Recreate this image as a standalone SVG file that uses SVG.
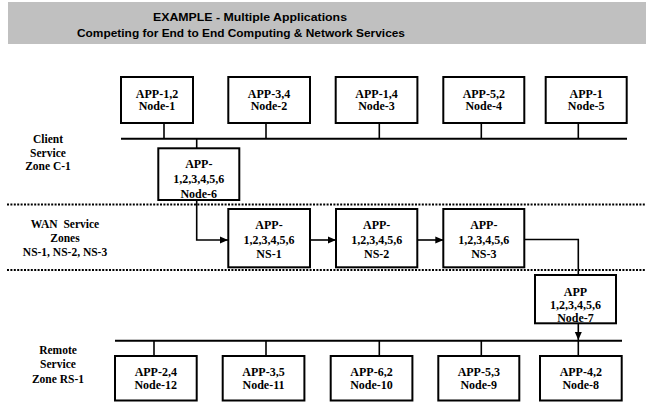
<svg xmlns="http://www.w3.org/2000/svg" width="646" height="402" viewBox="0 0 646 402">
<defs>
<marker id="ah" viewBox="0 0 8 8" refX="8" refY="4" markerWidth="8" markerHeight="8" markerUnits="userSpaceOnUse" orient="auto">
<path d="M0,0.5 L8,4 L0,7.5 Z" fill="#000"/>
</marker>
<style>
.box{fill:#fff;stroke:#000;stroke-width:2}
.t{font-family:"Liberation Serif","Times New Roman",serif;font-weight:bold;font-size:12px;text-anchor:middle;fill:#000}
.z{font-family:"Liberation Serif","Times New Roman",serif;font-weight:bold;font-size:11.5px;text-anchor:middle;fill:#000}
.ttl{font-family:"Liberation Sans",Arial,sans-serif;font-weight:bold;font-size:11.5px;text-anchor:middle;fill:#000}
.bus{stroke:#000;stroke-width:2;fill:none}
.stub{stroke:#000;stroke-width:1.6;fill:none}
.dot{stroke:#000;stroke-width:2;stroke-dasharray:2 1.4;fill:none}
.con{stroke:#000;stroke-width:1.6;fill:none}
</style>
</defs>
<rect width="646" height="402" fill="#fff"/>
<g id="title">
<rect x="8" y="2" width="638" height="42" fill="#c0c0c0"/>
<text class="ttl" x="250" y="20.5" textLength="194" lengthAdjust="spacingAndGlyphs">EXAMPLE - Multiple Applications</text>
<text class="ttl" x="241" y="37" textLength="328" lengthAdjust="spacingAndGlyphs">Competing for End to End Computing &amp; Network Services</text>
</g>
<g id="zones">
<line class="dot" x1="7" y1="204.5" x2="646" y2="204.5"/>
<line class="dot" x1="7" y1="270" x2="646" y2="270"/>
<text class="z" x="48" y="142.5">Client</text>
<text class="z" x="48" y="156.5">Service</text>
<text class="z" x="48" y="170">Zone C-1</text>
<text class="z" x="65" y="227.5" xml:space="preserve">WAN  Service</text>
<text class="z" x="65" y="241.5">Zones</text>
<text class="z" x="65" y="256">NS-1, NS-2, NS-3</text>
<text class="z" x="58" y="354">Remote</text>
<text class="z" x="58" y="368">Service</text>
<text class="z" x="58" y="382.5">Zone RS-1</text>
</g>
<g id="connectors">
<line class="bus" x1="121" y1="138.7" x2="627" y2="138.7"/>
<line class="bus" x1="115" y1="340.7" x2="622" y2="340.7"/>
<line class="stub" x1="164" y1="123" x2="164" y2="138.7"/>
<line class="stub" x1="266" y1="123" x2="266" y2="138.7"/>
<line class="stub" x1="379.3" y1="123" x2="379.3" y2="138.7"/>
<line class="stub" x1="481.3" y1="123" x2="481.3" y2="138.7"/>
<line class="stub" x1="578.3" y1="123" x2="578.3" y2="138.7"/>
<line class="stub" x1="196.7" y1="138.7" x2="196.7" y2="148"/>
<line class="stub" x1="154" y1="340.7" x2="154" y2="356"/>
<line class="stub" x1="266" y1="340.7" x2="266" y2="356"/>
<line class="stub" x1="379.3" y1="340.7" x2="379.3" y2="356"/>
<line class="stub" x1="481.3" y1="340.7" x2="481.3" y2="356"/>
<line class="stub" x1="578.3" y1="340.7" x2="578.3" y2="356"/>
<polyline class="con" points="196.7,190 196.7,240 228,240" marker-end="url(#ah)"/>
<line class="con" x1="310" y1="240" x2="336" y2="240" marker-end="url(#ah)"/>
<line class="con" x1="417.3" y1="240" x2="443.3" y2="240" marker-end="url(#ah)"/>
<polyline class="con" points="524.3,239.5 578.3,239.5 578.3,275"/>
<line class="con" x1="578.3" y1="323.3" x2="578.3" y2="340" marker-end="url(#ah)"/>
</g>
<g id="node1"><rect class="box" x="121" y="77" width="72" height="46"/><text class="t" x="157" y="97.5">APP-1,2</text><text class="t" x="157" y="110">Node-1</text></g>
<g id="node2"><rect class="box" x="228.3" y="77" width="81.7" height="46"/><text class="t" x="269" y="97.5">APP-3,4</text><text class="t" x="269" y="110">Node-2</text></g>
<g id="node3"><rect class="box" x="335.7" y="77" width="81.7" height="46"/><text class="t" x="376.5" y="97.5">APP-1,4</text><text class="t" x="376.5" y="110">Node-3</text></g>
<g id="node4"><rect class="box" x="443.3" y="77" width="81" height="46"/><text class="t" x="483.8" y="97.5">APP-5,2</text><text class="t" x="483.8" y="110">Node-4</text></g>
<g id="node5"><rect class="box" x="545.7" y="77" width="81" height="46"/><text class="t" x="586.2" y="97.5">APP-1</text><text class="t" x="586.2" y="110">Node-5</text></g>
<g id="node6"><rect class="box" x="158.3" y="148.3" width="81" height="51.7"/><text class="t" x="198.8" y="167.5">APP-</text><text class="t" x="198.8" y="183">1,2,3,4,5,6</text><text class="t" x="198.8" y="197.5">Node-6</text></g>
<g id="ns1"><rect class="box" x="228.3" y="209" width="81.7" height="58.3"/><text class="t" x="269" y="228.5">APP-</text><text class="t" x="269" y="244">1,2,3,4,5,6</text><text class="t" x="269" y="257.5">NS-1</text></g>
<g id="ns2"><rect class="box" x="336" y="209" width="81.3" height="58.3"/><text class="t" x="376.7" y="228.5">APP-</text><text class="t" x="376.7" y="244">1,2,3,4,5,6</text><text class="t" x="376.7" y="257.5">NS-2</text></g>
<g id="ns3"><rect class="box" x="443.3" y="209" width="81" height="58.3"/><text class="t" x="483.8" y="228.5">APP-</text><text class="t" x="483.8" y="244">1,2,3,4,5,6</text><text class="t" x="483.8" y="257.5">NS-3</text></g>
<g id="node7"><rect class="box" x="535" y="275" width="81" height="48.3"/><text class="t" x="575.5" y="296">APP</text><text class="t" x="575.5" y="308.5">1,2,3,4,5,6</text><text class="t" x="575.5" y="321.5">Node-7</text></g>
<g id="node12"><rect class="box" x="115" y="356" width="81.7" height="44.5"/><text class="t" x="155.8" y="376">APP-2,4</text><text class="t" x="155.8" y="389">Node-12</text></g>
<g id="node11"><rect class="box" x="222.7" y="356" width="81.7" height="44.5"/><text class="t" x="263.5" y="376">APP-3,5</text><text class="t" x="263.5" y="389">Node-11</text></g>
<g id="node10"><rect class="box" x="330.7" y="356" width="81.7" height="44.5"/><text class="t" x="371.5" y="376">APP-6,2</text><text class="t" x="371.5" y="389">Node-10</text></g>
<g id="node9"><rect class="box" x="438.3" y="356" width="81" height="44.5"/><text class="t" x="478.8" y="376">APP-5,3</text><text class="t" x="478.8" y="389">Node-9</text></g>
<g id="node8"><rect class="box" x="540" y="356" width="81.7" height="44.5"/><text class="t" x="580.8" y="376">APP-4,2</text><text class="t" x="580.8" y="389">Node-8</text></g>
</svg>
